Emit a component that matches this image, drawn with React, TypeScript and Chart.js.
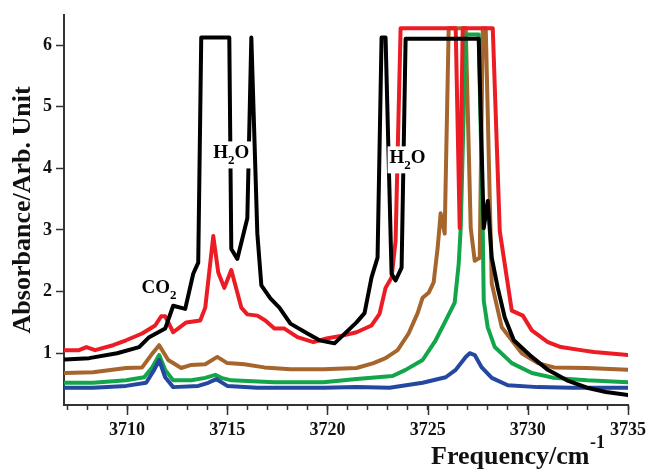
import React, { useEffect, useRef } from 'react';
import { Chart, registerables } from 'chart.js';

Chart.register(...registerables);

const FONT = '"Liberation Serif", "Times New Roman", serif';

// Tick values
const xMajorTicks = [3710, 3715, 3720, 3725, 3730, 3735];
const yTicks = [1, 2, 3, 4, 5, 6];

// Black series
const blackX = [3706.9, 3708.1, 3709.5, 3710.6, 3711.1, 3711.9, 3712.3, 3712.9, 3713.3, 3713.55, 3713.7, 3715.1, 3715.2, 3715.5, 3716.0, 3716.2, 3716.5, 3716.7, 3717.15, 3717.6, 3718.15, 3719.0, 3719.6, 3720.35, 3721.45, 3721.85, 3722.2, 3722.5, 3722.7, 3722.9, 3723.2, 3723.4, 3723.7, 3723.9, 3727.55, 3727.8, 3728.0, 3728.2, 3728.5, 3728.85, 3729.3, 3730.2, 3731.0, 3731.95, 3732.95, 3733.9, 3735];
const blackY = [0.90, 0.92, 1.0, 1.10, 1.26, 1.40, 1.77, 1.72, 2.29, 2.47, 6.12, 6.12, 2.69, 2.53, 3.19, 6.12, 2.94, 2.10, 1.89, 1.74, 1.48, 1.32, 1.21, 1.16, 1.50, 1.65, 2.23, 2.55, 6.12, 6.12, 2.29, 2.18, 2.39, 6.1, 6.1, 3.03, 3.47, 2.55, 2.06, 1.58, 1.21, 0.94, 0.73, 0.56, 0.44, 0.37, 0.32];

// Red series
const redX = [3706.9, 3707.6, 3707.97, 3708.4, 3709.3, 3709.95, 3710.75, 3711.4, 3711.7, 3711.9, 3712.3, 3712.95, 3713.65, 3713.9, 3714.3, 3714.55, 3714.85, 3715.2, 3715.7, 3716.0, 3716.5, 3716.9, 3717.35, 3717.85, 3718.5, 3719.3, 3719.95, 3720.8, 3721.45, 3722.2, 3722.6, 3722.9, 3723.2, 3723.4, 3723.65, 3726.4, 3726.6, 3726.75, 3728.25, 3728.6, 3729.2, 3729.75, 3730.2, 3731.0, 3731.65, 3732.65, 3733.3, 3735];
const redY = [1.05, 1.05, 1.10, 1.05, 1.13, 1.21, 1.32, 1.45, 1.60, 1.60, 1.34, 1.50, 1.53, 1.74, 2.90, 2.31, 2.06, 2.35, 1.74, 1.63, 1.61, 1.53, 1.40, 1.40, 1.26, 1.18, 1.24, 1.29, 1.34, 1.45, 1.64, 2.06, 2.23, 2.82, 6.27, 6.27, 3.03, 6.27, 6.27, 2.98, 1.69, 1.61, 1.37, 1.18, 1.10, 1.05, 1.02, 0.97];

// Brown series
const brownX = [3706.9, 3708.3, 3709.95, 3710.75, 3711.2, 3711.6, 3712.05, 3712.7, 3713.2, 3713.9, 3714.5, 3715.0, 3715.85, 3716.85, 3718.15, 3719.8, 3721.45, 3722.3, 3722.9, 3723.5, 3724.05, 3724.5, 3724.75, 3725.05, 3725.3, 3725.5, 3725.65, 3725.85, 3726.05, 3726.9, 3727.15, 3727.35, 3727.6, 3727.75, 3727.9, 3728.2, 3728.7, 3729.7, 3730.5, 3731.3, 3732.95, 3735];
const brownY = [0.68, 0.69, 0.76, 0.77, 0.97, 1.13, 0.89, 0.76, 0.81, 0.82, 0.94, 0.84, 0.82, 0.77, 0.74, 0.74, 0.76, 0.84, 0.92, 1.05, 1.32, 1.65, 1.90, 1.98, 2.15, 2.71, 3.27, 2.94, 6.27, 6.27, 3.03, 2.50, 2.55, 6.27, 6.27, 2.13, 1.42, 1.0, 0.84, 0.77, 0.76, 0.73];

// Green series
const greenX = [3706.9, 3708.3, 3709.95, 3710.85, 3711.25, 3711.6, 3711.9, 3712.3, 3713.2, 3713.9, 3714.4, 3714.7, 3715.2, 3717.35, 3719.8, 3721.45, 3723.25, 3723.9, 3724.75, 3725.4, 3725.9, 3726.35, 3726.55, 3726.65, 3726.9, 3727.55, 3727.75, 3727.8, 3728.0, 3728.35, 3729.2, 3730.2, 3731.3, 3732.95, 3735];
const greenY = [0.52, 0.52, 0.56, 0.61, 0.77, 0.97, 0.73, 0.56, 0.56, 0.60, 0.65, 0.60, 0.56, 0.53, 0.53, 0.58, 0.63, 0.73, 0.89, 1.21, 1.53, 1.82, 2.45, 3.03, 6.17, 6.17, 3.03, 1.85, 1.42, 1.10, 0.84, 0.68, 0.60, 0.56, 0.53];

// Blue series
const blueX = [3706.9, 3708.3, 3709.95, 3710.95, 3711.35, 3711.6, 3711.9, 3712.3, 3713.55, 3714.05, 3714.45, 3715.0, 3716.5, 3719.8, 3721.45, 3723.1, 3724.75, 3725.9, 3726.4, 3726.9, 3727.1, 3727.35, 3727.7, 3728.2, 3729.0, 3730.5, 3732.15, 3735];
const blueY = [0.44, 0.44, 0.47, 0.52, 0.73, 0.89, 0.61, 0.45, 0.47, 0.52, 0.58, 0.47, 0.44, 0.44, 0.45, 0.44, 0.52, 0.61, 0.73, 0.94, 1.0, 0.97, 0.77, 0.60, 0.48, 0.45, 0.44, 0.44];

const pts = (xs: number[], ys: number[]) => xs.map((x, i) => ({ x, y: ys[i] }));

type Part = { t: string; sub?: boolean };

export default function App() {
  const ref = useRef<HTMLCanvasElement>(null);

  useEffect(() => {
    const canvas = ref.current;
    if (!canvas) return;

    const extras = {
      id: 'extras',
      afterDatasetsDraw(chart: any) {
        const ctx = chart.ctx as CanvasRenderingContext2D;
        const xs = chart.scales.x;
        const ys = chart.scales.y;
        const drawChem = (parts: Part[], fx: number, fy: number, box: boolean) => {
          const left = xs.getPixelForValue(fx);
          const base = ys.getPixelForValue(fy);
          const mainF = `bold 19px ${FONT}`;
          const subF = `bold 13px ${FONT}`;
          let w = 0;
          parts.forEach((p) => {
            ctx.font = p.sub ? subF : mainF;
            w += ctx.measureText(p.t).width;
          });
          ctx.save();
          if (box) {
            ctx.fillStyle = '#fff';
            ctx.fillRect(left - 2, base - 17, w + 4, 27);
          }
          ctx.fillStyle = '#000';
          ctx.textBaseline = 'alphabetic';
          ctx.textAlign = 'left';
          let cx = left;
          parts.forEach((p) => {
            ctx.font = p.sub ? subF : mainF;
            ctx.fillText(p.t, cx, p.sub ? base + 6 : base);
            cx += ctx.measureText(p.t).width;
          });
          ctx.restore();
        };
        drawChem([{ t: 'CO' }, { t: '2', sub: true }], 3710.72, 1.98, false);
        drawChem([{ t: 'H' }, { t: '2', sub: true }, { t: 'O' }], 3714.3, 4.16, true);
        drawChem([{ t: 'H' }, { t: '2', sub: true }, { t: 'O' }], 3723.1, 4.08, true);
      },
      afterDraw(chart: any) {
        const ctx = chart.ctx as CanvasRenderingContext2D;
        const xs = chart.scales.x;
        const area = chart.chartArea;
        ctx.save();
        // longer major ticks
        ctx.strokeStyle = '#333';
        ctx.lineWidth = 1.5;
        xMajorTicks.forEach((v) => {
          const px = Math.round(xs.getPixelForValue(v)) + 0.5;
          ctx.beginPath();
          ctx.moveTo(px, area.bottom);
          ctx.lineTo(px, area.bottom + 10);
          ctx.stroke();
        });
        // axis titles
        ctx.fillStyle = '#111';
        ctx.textBaseline = 'alphabetic';
        ctx.textAlign = 'left';
        ctx.font = `bold 26px ${FONT}`;
        ctx.fillText('Frequency/cm', 431, 464);
        ctx.font = `bold 18px ${FONT}`;
        ctx.fillText('-1', 590, 448);
        ctx.translate(23, (area.top + area.bottom) / 2);
        ctx.rotate(-Math.PI / 2);
        ctx.textAlign = 'center';
        ctx.textBaseline = 'middle';
        ctx.font = `bold 26px ${FONT}`;
        ctx.fillText('Absorbance/Arb. Unit', 0, 0);
        ctx.restore();
      },
    };

    const line = (data: any[], color: string) => ({
      data,
      borderColor: color,
      backgroundColor: color,
      borderWidth: 4,
      pointRadius: 0,
      tension: 0,
      fill: false,
      borderJoinStyle: 'round' as const,
      borderCapStyle: 'round' as const,
    });

    const chart = new Chart(canvas, {
      type: 'line',
      data: {
        datasets: [
          line(pts(blackX, blackY), '#000000'),
          line(pts(blueX, blueY), '#2447a0'),
          line(pts(redX, redY), '#ec1c24'),
          line(pts(greenX, greenY), '#12a54a'),
          line(pts(brownX, brownY), '#a6652c'),
        ],
      },
      options: {
        animation: false,
        responsive: false,
        maintainAspectRatio: false,
        events: [],
        layout: { padding: { left: 0, right: 21, top: 12, bottom: 0 } },
        plugins: { legend: { display: false }, tooltip: { enabled: false }, title: { display: false } },
        scales: {
          x: {
            type: 'linear',
            min: 3706.85,
            max: 3735,
            afterBuildTicks: (s: any) => {
              const t: { value: number }[] = [];
              for (let v = 3707; v <= 3735; v++) t.push({ value: v });
              s.ticks = t;
            },
            afterFit: (s: any) => {
              s.height = 66;
            },
            grid: { drawOnChartArea: false, drawTicks: true, tickLength: 5, tickColor: '#333', tickWidth: 1.5 },
            border: { display: true, color: '#333', width: 2 },
            ticks: {
              autoSkip: false,
              maxRotation: 0,
              minRotation: 0,
              padding: 10,
              color: '#111',
              font: { family: FONT, size: 18, weight: 'bold' },
              callback: (v: any) => (xMajorTicks.includes(Number(v)) ? String(v) : ''),
            },
          },
          y: {
            type: 'linear',
            min: 0.16,
            max: 6.49,
            afterBuildTicks: (s: any) => {
              s.ticks = yTicks.map((v) => ({ value: v }));
            },
            afterFit: (s: any) => {
              s.width = 64;
            },
            grid: { drawOnChartArea: false, drawTicks: true, tickLength: 8, tickColor: '#333', tickWidth: 1.5 },
            border: { display: true, color: '#333', width: 2 },
            ticks: {
              padding: 4,
              color: '#111',
              font: { family: FONT, size: 18, weight: 'bold' },
              callback: (v: any) => String(v),
            },
          },
        },
      },
      plugins: [extras],
    });

    return () => chart.destroy();
  }, []);

  return (
    <div style={{ position: 'fixed', left: 0, top: 0, width: 656, height: 471, background: '#fff' }}>
      <canvas ref={ref} width={656} height={471} style={{ display: 'block', width: 656, height: 471 }} />
    </div>
  );
}
